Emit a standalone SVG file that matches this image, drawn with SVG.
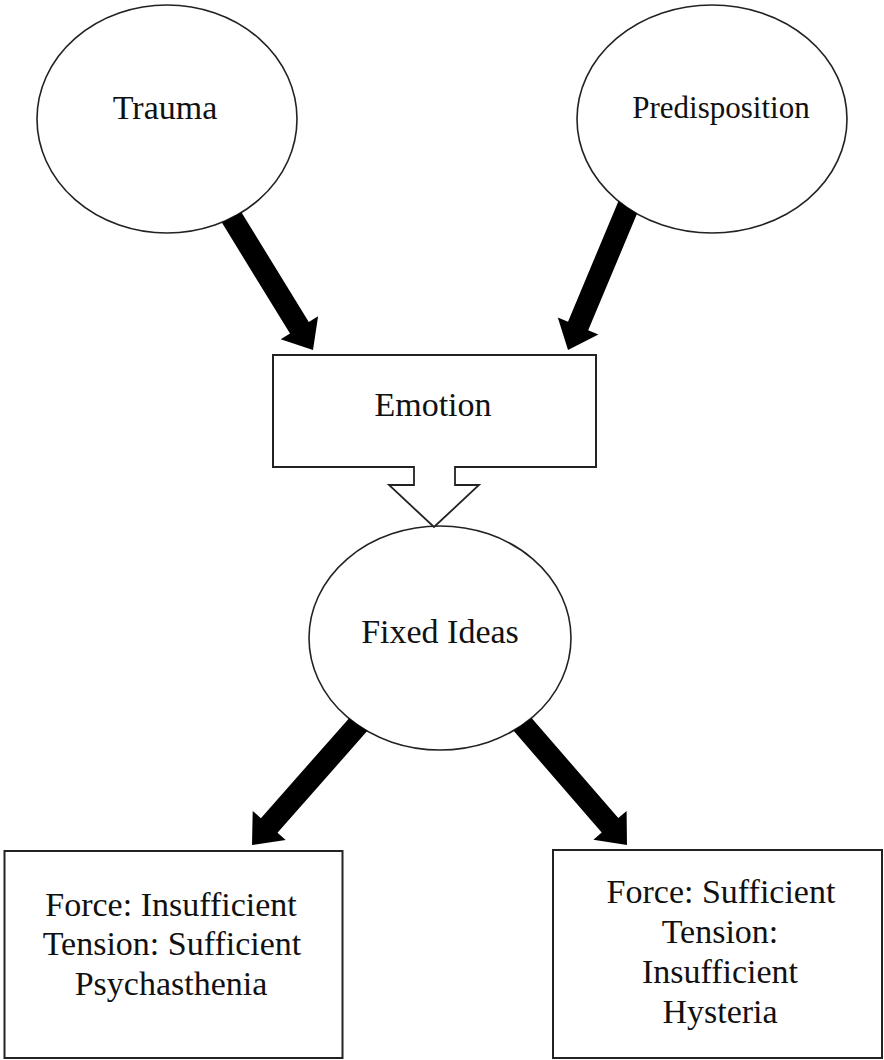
<svg xmlns="http://www.w3.org/2000/svg" width="884" height="1060" viewBox="0 0 884 1060">
<style>
.n{fill:#fff;stroke:#222;stroke-width:1.6}
.b{fill:#fff;stroke:#222;stroke-width:2}
.t{font-family:"Liberation Serif","Times New Roman",serif;font-size:34px;fill:#111;text-anchor:middle}
.a{fill:#000;stroke:none}
.h{fill:#fff;stroke:#222;stroke-width:1.8;stroke-linejoin:miter}
</style>
<rect width="884" height="1060" fill="#fff"/>
<g id="trauma">
<ellipse class="n" cx="167" cy="119" rx="130" ry="114"/>
<text class="t" x="165" y="119">Trauma</text>
</g>
<g id="predisposition">
<ellipse class="n" cx="712" cy="119" rx="135" ry="114"/>
<text class="t" x="721" y="118" style="font-size:31px">Predisposition</text>
</g>
<g id="emotion">
<rect class="b" x="273" y="355" width="323" height="112"/>
<text class="t" x="433" y="416">Emotion</text>
</g>
<g id="fixed-ideas">
<ellipse class="n" cx="440" cy="638" rx="131" ry="112"/>
<text class="t" x="440" y="643">Fixed Ideas</text>
</g>
<g id="psychasthenia">
<rect class="b" x="4.5" y="851" width="338" height="207"/>
<text class="t" x="171" y="916">Force: Insufficient</text>
<text class="t" x="172" y="955">Tension: Sufficient</text>
<text class="t" x="171" y="995">Psychasthenia</text>
</g>
<g id="hysteria">
<rect class="b" x="553" y="850" width="329" height="208"/>
<text class="t" x="721" y="903">Force: Sufficient</text>
<text class="t" x="720" y="943">Tension:</text>
<text class="t" x="720" y="983">Insufficient</text>
<text class="t" x="720" y="1023">Hysteria</text>
</g>
<g id="connectors">
<polygon class="a" points="241.4,212.2 308.8,322.1 318.1,316.3 313,350 280.7,339.3 290,333.6 222,222.8"/>
<polygon class="a" points="637,213.8 588.2,330.3 598.4,334.5 568,350 557.8,317.5 568,321.7 618.4,201.2"/>
<polygon class="a" points="367.2,731.1 277.5,832.8 285.7,840.1 252,845 252.7,810.9 260.9,818.2 348.9,718.4"/>
<polygon class="a" points="531.8,718.2 618.3,818.1 626.6,810.9 627,845 593.4,839.7 601.7,832.5 513.6,730.8"/>
<path class="h" d="M414,466 V485 H389 L434,527 L479,485 H455 V466"/>
</g>
</svg>
